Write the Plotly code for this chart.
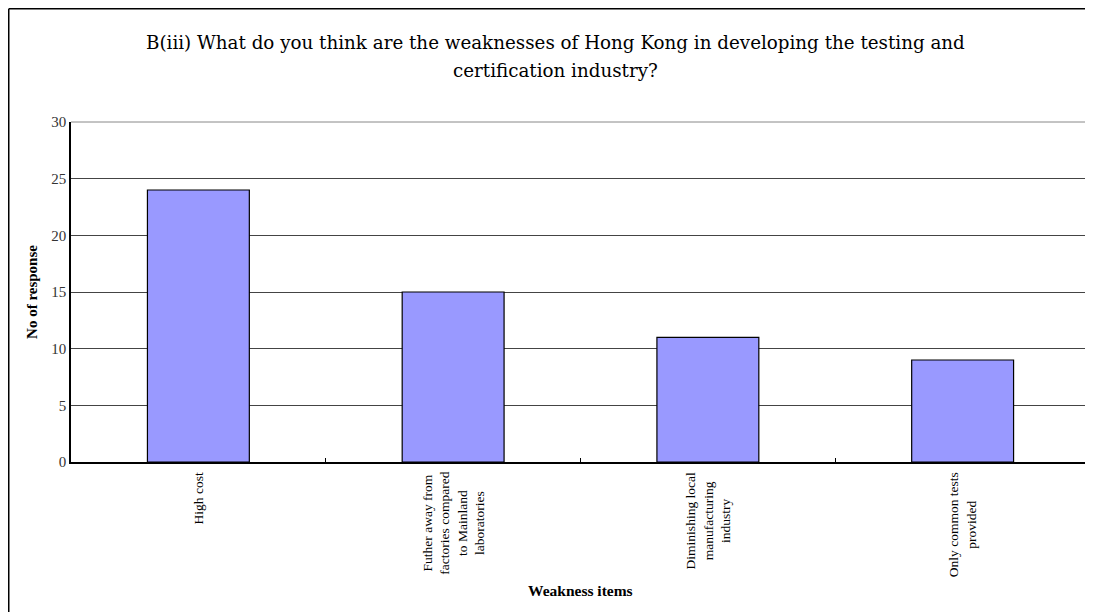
import plotly.graph_objects as go

categories = ["High cost",
              "Futher away from factories compared to Mainland laboratories",
              "Diminishing local manufacturing industry",
              "Only common tests provided"]
label_lines = [["High cost"],
               ["Futher away from", "factories compared", "to Mainland", "laboratories"],
               ["Diminishing local", "manufacturing", "industry"],
               ["Only common tests", "provided"]]
responses = [24, 15, 11, 9]
y_ticks = [0, 5, 10, 15, 20, 25, 30]

title_line1 = "B(iii) What do you think are the weaknesses of Hong Kong in developing the testing and"
title_line2 = "certification industry?"

# page body has an 8px margin; figure sized so that it fits the 1093x612 window
OFF = 8
W, H = 1093 - OFF, 612 - OFF
ML, MT = 71 - OFF, 122 - OFF
MR = W - (1090 - OFF)
MB = H - (462 - OFF)
pw, ph = W - ML - MR, H - MT - MB

fig = go.Figure()
fig.add_trace(go.Bar(
    x=categories, y=responses,
    marker=dict(color="#9999FF", line=dict(color="#000000", width=1.2)),
    width=0.4, hoverinfo="x+y"))

serif = "Liberation Serif"
annotations = []
for cat, lines in zip(categories, label_lines):
    annotations.append(dict(
        x=cat, xref="x", y=0, yref="paper", yshift=-8,
        xanchor="center", yanchor="top", textangle=-90, align="center",
        text="<br>".join(lines), showarrow=False,
        font=dict(family=serif, size=13.5, color="#000")))
# x-axis title
annotations.append(dict(
    x=0.5, xref="paper", y=-(590 - 462) / ph, yref="paper",
    xanchor="center", yanchor="middle", showarrow=False,
    text="<b>Weakness items</b>",
    font=dict(family=serif, size=15.5, color="#000")))
# chart title, two lines
for txt, yc in [(title_line1, 43), (title_line2, 70)]:
    annotations.append(dict(
        x=(555 - 71) / pw, xref="paper", y=(462 - yc) / ph, yref="paper",
        xanchor="center", yanchor="middle", showarrow=False, text=txt,
        font=dict(family="DejaVu Serif", size=18.3, color="#000")))

fig.update_layout(
    width=W, height=H,
    margin=dict(l=ML, r=MR, t=MT, b=MB),
    paper_bgcolor="white", plot_bgcolor="white",
    showlegend=False,
    annotations=annotations,
    xaxis=dict(showticklabels=False, ticks="inside", ticklen=4, tickcolor="#000",
               tickson="boundaries", showline=True, linecolor="#000", linewidth=1.5,
               mirror=False, showgrid=False),
    yaxis=dict(range=[0, 30], tickvals=y_ticks, showgrid=True, gridcolor="#444",
               gridwidth=1, showline=True, linecolor="#000", linewidth=1.5,
               ticks="", zeroline=False,
               tickfont=dict(family=serif, size=15, color="#333"),
               title=dict(text="<b>No of response</b>", standoff=10,
                          font=dict(family=serif, size=15, color="#000"))),
)

# plot-area border (top and right), grey
fig.add_shape(type="line", xref="paper", yref="paper", x0=0, x1=1, y0=1, y1=1,
              line=dict(color="#888", width=1))
fig.add_shape(type="line", xref="paper", yref="paper", x0=1, x1=1, y0=0, y1=1,
              line=dict(color="#888", width=1))
# outer chart border (top and left edges visible)
bx = (0.75 - ML) / pw
by = (H - MB - 0.75) / ph
fig.add_shape(type="line", xref="paper", yref="paper", x0=bx, x1=1.2, y0=by, y1=by,
              line=dict(color="#000", width=1.5))
fig.add_shape(type="line", xref="paper", yref="paper", x0=bx, x1=bx, y0=by, y1=-1,
              line=dict(color="#000", width=1.5))

fig.write_html("out.html")
